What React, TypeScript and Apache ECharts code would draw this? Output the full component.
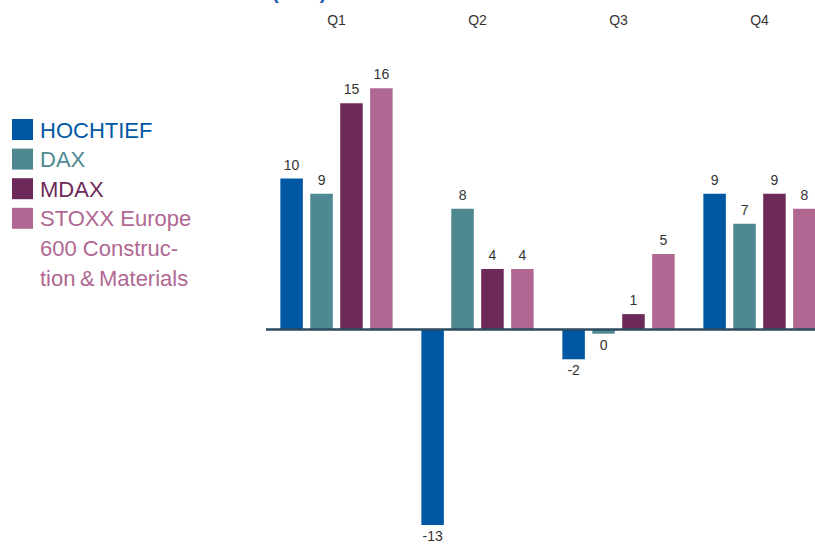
import React, { useEffect, useRef } from "react";
import * as echarts from "echarts";

const categories = ["Q1", "Q2", "Q3", "Q4"];
const hochtief = [10, -13, -2, 9];
const dax = [9, 8, -0.3, 7];
const mdax = [15, 4, 1, 9];
const stoxx = [16, 4, 5, 8];
const legendNames = ["HOCHTIEF", "DAX", "MDAX", "STOXX Europe\n600 Construc-\ntion\u2009&\u2009Materials"];
const seriesNames = ["HOCHTIEF", "DAX", "MDAX", "STOXX Europe 600 Construction & Materials"];
const colors = ["#0057a4", "#4e8991", "#6d2957", "#b06893"];

const FONT = "Liberation Sans, Arial, sans-serif";

export default function App() {
  const ref = useRef<HTMLDivElement>(null);
  useEffect(() => {
    const chart = echarts.init(ref.current!, undefined, { renderer: "svg" });
    const all = [hochtief, dax, mdax, stoxx];
    const series: any[] = all.map((vals, i) => ({
      name: seriesNames[i],
      type: "bar",
      xAxisIndex: 0,
      barWidth: 22.5,
      barGap: "33%",
      z: 3,
      itemStyle: { color: colors[i] },
      data: vals.map((v) => ({
        value: v,
        itemStyle: Math.abs(v) < 0.5 ? { borderColor: colors[i], borderWidth: 3 } : undefined,
        label: { position: v < 0 ? "bottom" : "top", distance: v < 0 ? 4 : 7 },
      })),
      label: {
        show: true,
        color: "#333",
        fontSize: 14,
        fontFamily: FONT,
        formatter: (p: any) => String(Math.round(p.value) === 0 ? 0 : Math.round(p.value)),
      },
    }));
    // zero line
    series.push({
      type: "line",
      data: [],
      z: 2,
      silent: true,
      markLine: {
        silent: true,
        symbol: ["none", "none"],
        label: { show: false },
        lineStyle: { color: "#2c4a60", width: 2.5, type: "solid" },
        data: [{ yAxis: 0 }],
      },
    });
    const graphics: any[] = [
      {
        type: "text",
        x: 272,
        y: -18,
        style: { text: "(in %)", fill: "#1a5ea8", font: `bold 20px ${FONT}` },
      },
    ];
    legendNames.forEach((n, i) => {
      const y = 119 + i * 29.6;
      graphics.push({
        type: "rect",
        shape: { x: 12, y, width: 21, height: 21 },
        style: { fill: colors[i] },
      });
      graphics.push({
        type: "text",
        x: 40,
        y: i === 3 ? y + 11 - 14.8 : y + 11,
        style: {
          text: n,
          fill: colors[i],
          font: `22px ${FONT}`,
          lineHeight: 29.6,
          verticalAlign: i === 3 ? "top" : "middle",
        },
      });
    });

    chart.setOption({
      animation: false,
      grid: { left: 266, top: 28, width: 564, height: 512 },
      xAxis: [
        {
          type: "category",
          position: "top",
          data: categories,
          axisLine: { show: false },
          axisTick: { show: false },
          axisLabel: { color: "#333", fontSize: 14, fontFamily: FONT, margin: 1 },
        },
      ],
      yAxis: { type: "value", min: -14, max: 20, show: false, splitLine: { show: false } },
      series,
      graphic: graphics,
    });
    return () => chart.dispose();
  }, []);
  return (
    <div
      ref={ref}
      style={{ position: "fixed", left: 0, top: 0, width: 850, height: 545, background: "#fff" }}
    />
  );
}
